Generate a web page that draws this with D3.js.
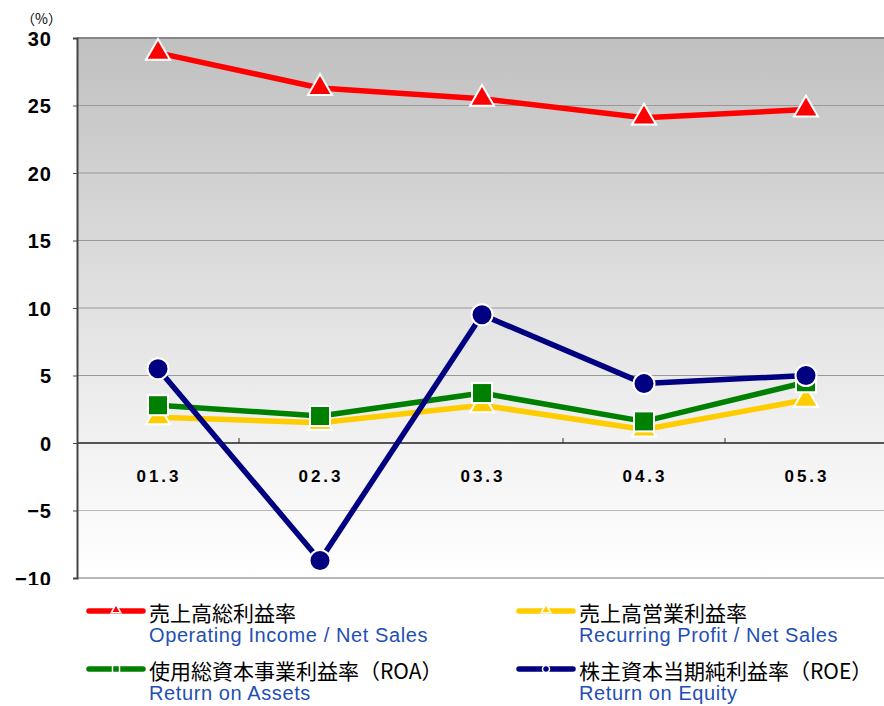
<!DOCTYPE html>
<html>
<head>
<meta charset="utf-8">
<script src="https://cdn.jsdelivr.net/npm/d3@7"></script>
<style>
  body { margin: 0; background: #fff; }
  svg { display: block; }
</style>
</head>
<body>
<div id="chart"></div>
<script>
// datos
var categories = ['01.3', '02.3', '03.3', '04.3', '05.3'];
var grossMargin = [28.9, 26.3, 25.5, 24.1, 24.7];
var operatingMargin = [1.9, 1.5, 2.8, 1.0, 3.2];
var roa = [2.8, 2.0, 3.7, 1.6, 4.5];
var roe = [5.5, -8.7, 9.5, 4.4, 5.0];
var yTicks = [30, 25, 20, 15, 10, 5, 0, -5, -10];

var series = [
  { ja: '売上高総利益率', en: 'Operating Income / Net Sales', values: grossMargin, color: '#ff0000', marker: 'triangle' },
  { ja: '売上高営業利益率', en: 'Recurring Profit / Net Sales', values: operatingMargin, color: '#ffcc00', marker: 'triangle' },
  { ja: '使用総資本事業利益率（ROA）', en: 'Return on Assets', values: roa, color: '#008000', marker: 'square' },
  { ja: '株主資本当期純利益率（ROE）', en: 'Return on Equity', values: roe, color: '#000080', marker: 'circle' }
];
// orden de dibujo: amarillo, verde, rojo, azul
var drawOrder = [1, 2, 0, 3];

var width = 884, height = 706;
var plot = { left: 77, top: 38, right: 887, bottom: 578 };

var svg = d3.select('#chart').append('svg')
  .attr('width', width)
  .attr('height', height);

var defs = svg.append('defs');
var grad = defs.append('linearGradient')
  .attr('id', 'bg')
  .attr('x1', 0).attr('y1', 0).attr('x2', 0).attr('y2', 1);
grad.append('stop').attr('offset', '0%').attr('stop-color', '#c0c0c0');
grad.append('stop').attr('offset', '75%').attr('stop-color', '#f2f2f2');
grad.append('stop').attr('offset', '100%').attr('stop-color', '#ffffff');

// escalas
var x = d3.scaleBand()
  .domain(categories)
  .range([plot.left, plot.right]);

var y = d3.scaleLinear()
  .domain([-10, 30])
  .range([plot.bottom, plot.top]);

svg.append('rect')
  .attr('x', plot.left).attr('y', plot.top)
  .attr('width', plot.right - plot.left)
  .attr('height', plot.bottom - plot.top)
  .attr('fill', 'url(#bg)');

// lineas de cuadricula
svg.append('g')
  .selectAll('line')
  .data(yTicks)
  .enter()
  .append('line')
  .attr('x1', plot.left).attr('x2', plot.right)
  .attr('y1', d => y(d)).attr('y2', d => y(d))
  .attr('stroke', d => d === 0 ? '#555' : (d === 30 ? '#888' : (d < 0 ? '#b8b8b8' : '#999')))
  .attr('stroke-width', d => (d === 0 || d === 30 || d === -10) ? 2 : 1.2);

// eje y
var yaxis = d3.axisLeft(y)
  .tickValues(yTicks)
  .tickSize(4)
  .tickFormat(d => d < 0 ? '\u2212' + Math.abs(d) : d);

var gy = svg.append('g')
  .attr('transform', 'translate(' + plot.left + ',0)')
  .call(yaxis);
gy.select('.domain').attr('stroke', '#444').attr('stroke-width', 2);
gy.selectAll('.tick line').attr('stroke', '#444');
gy.selectAll('.tick text')
  .attr('x', -25)
  .attr('dy', '0.36em')
  .attr('fill', '#000')
  .style('font-family', 'Liberation Sans, Arial, sans-serif')
  .style('font-weight', 'bold')
  .style('font-size', '20px')
  .style('letter-spacing', '1px');

// recorte de la etiqueta -10
svg.append('rect')
  .attr('x', 0).attr('y', plot.bottom + 7)
  .attr('width', plot.left - 2).attr('height', 14)
  .attr('fill', '#fff');

svg.append('text')
  .attr('x', 21).attr('y', 24)
  .text('（%）')
  .style('font-family', 'Noto Sans CJK JP, sans-serif')
  .style('font-size', '14px');

// eje x sobre la linea de cero
var xTickPos = categories.slice(1).map(c => x(c));
svg.append('g')
  .selectAll('line')
  .data(xTickPos)
  .enter()
  .append('line')
  .attr('x1', d => d).attr('x2', d => d)
  .attr('y1', y(0) - 5).attr('y2', y(0))
  .attr('stroke', '#333');

svg.append('g')
  .selectAll('text')
  .data(categories)
  .enter()
  .append('text')
  .attr('x', d => x(d) + x.bandwidth() / 2 + 1)
  .attr('y', y(0) + 39)
  .attr('text-anchor', 'middle')
  .text(d => d)
  .style('font-family', 'Liberation Sans, Arial, sans-serif')
  .style('font-weight', 'bold')
  .style('font-size', '17px')
  .style('letter-spacing', '3px');

// marcadores
function drawMarker(g, type, color, size) {
  if (type === 'triangle') {
    g.append('path')
      .attr('d', d3.symbol().type(d3.symbolTriangle).size(size)());
  } else if (type === 'square') {
    g.append('rect')
      .attr('x', -size / 2).attr('y', -size / 2)
      .attr('width', size).attr('height', size);
  } else {
    g.append('circle').attr('r', size / 2);
  }
  g.selectAll('*').attr('fill', color);
}

var line = d3.line()
  .x((d, i) => x(categories[i]) + x.bandwidth() / 2)
  .y(d => y(d));

drawOrder.forEach(function(k) {
  var s = series[k];
  var g = svg.append('g');
  g.append('path')
    .datum(s.values)
    .attr('d', line)
    .attr('fill', 'none')
    .attr('stroke', s.color)
    .attr('stroke-width', 5.5)
    .attr('stroke-linejoin', 'round');

  var m = g.selectAll('g.mk')
    .data(s.values)
    .enter()
    .append('g')
    .attr('class', 'mk')
    .attr('transform', (d, i) => 'translate(' + (x(categories[i]) + x.bandwidth() / 2) + ',' + y(d) + ')');
  m.each(function() {
    var mg = d3.select(this);
    drawMarker(mg, s.marker, s.color, s.marker === 'triangle' ? 250 : (s.marker === 'square' ? 20 : 21));
    mg.selectAll('*').attr('stroke', '#fff').attr('stroke-width', 2);
  });
});

// leyenda
var legendPos = [
  { x: 87, y: 611 },
  { x: 517, y: 611 },
  { x: 87, y: 669 },
  { x: 517, y: 669 }
];

series.forEach(function(s, i) {
  var p = legendPos[i];
  var g = svg.append('g').attr('transform', 'translate(' + p.x + ',' + p.y + ')');
  g.append('line')
    .attr('x1', 2).attr('x2', 56)
    .attr('y1', 0).attr('y2', 0)
    .attr('stroke', s.color)
    .attr('stroke-width', 5.5)
    .attr('stroke-linecap', 'round');
  var mk = g.append('g').attr('transform', 'translate(29,' + (s.marker === 'triangle' ? -1 : 0) + ')');
  drawMarker(mk, s.marker, s.color, s.marker === 'triangle' ? 40 : 7);
  mk.selectAll('*').attr('stroke', '#fff').attr('stroke-width', 1.5);

  g.append('text')
    .attr('x', 62).attr('y', 10)
    .text(s.ja)
    .style('font-family', 'Noto Sans CJK JP, sans-serif')
    .style('font-size', '21px')
    .attr('fill', '#000');
  g.append('text')
    .attr('x', 62).attr('y', 31)
    .text(s.en)
    .style('font-family', 'Liberation Sans, Arial, sans-serif')
    .style('font-size', '20px')
    .style('letter-spacing', '0.6px')
    .attr('fill', '#1f4fb4');
});
</script>
</body>
</html>
